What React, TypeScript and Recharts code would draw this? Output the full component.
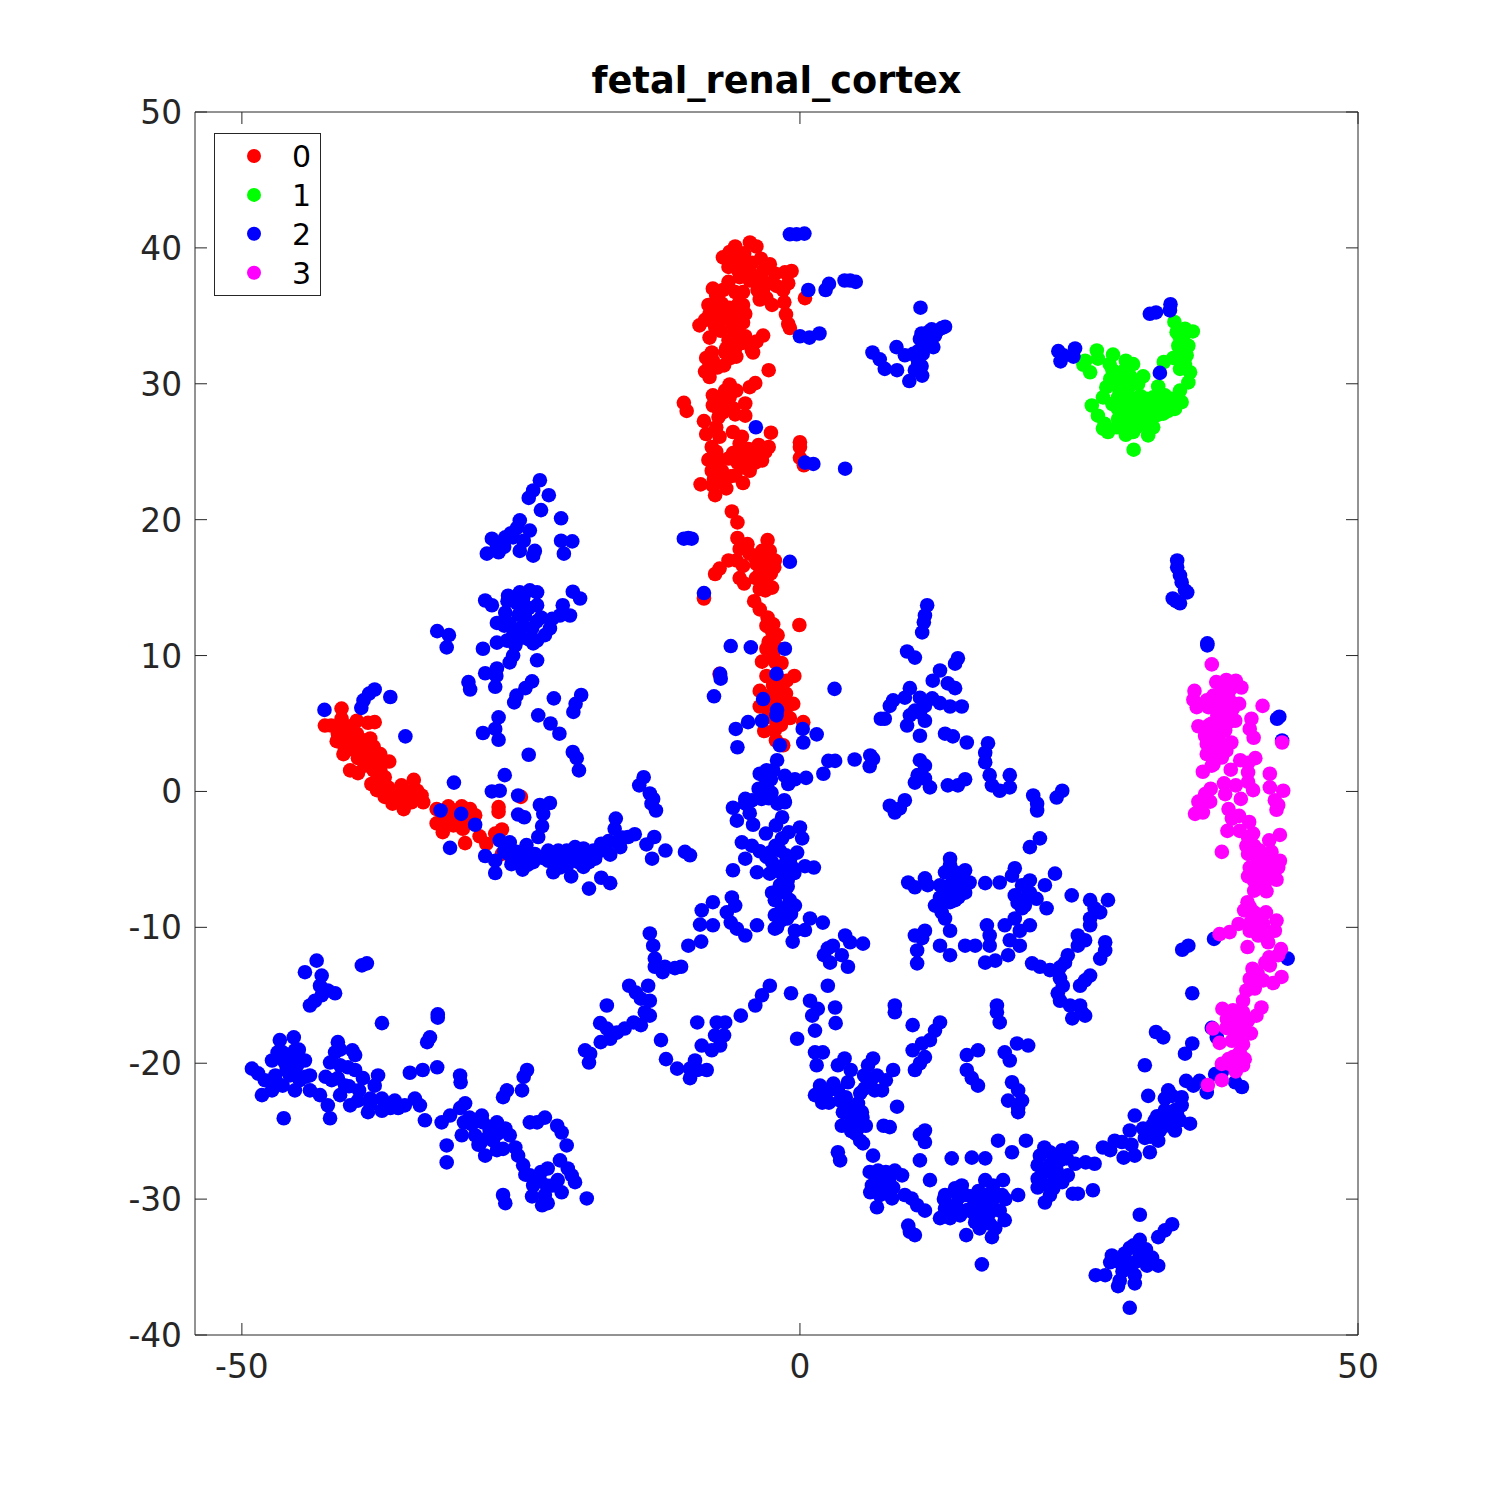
import React from 'react';
import { ScatterChart, Scatter, XAxis, YAxis, Legend } from 'recharts';

type Pt = [number, number];

const xTicks = [-50, 0, 50];
const yTicks = [-40, -30, -20, -10, 0, 10, 20, 30, 40, 50];
const seriesNames = ['0', '1', '2', '3'];
const seriesColors = ['#ff0000', '#00ff00', '#0000ff', '#ff00ff'];

const cluster0: Pt[] = [
  [-4.48,40.4],[-3.9,40.1],[-5.8,40.1],[-6.3,39.7],[-6.9,39.3],[-5.5,39.4],[-6,39],[-4.3,38.9],[-4.9,38.8],[-2.7,38.8],[-3.3,38.3],[-.75,38.3],[-1.35,38.2],[-5.5,38.3],[-5.4,37.85],[-3.9,37.85],[-4.5,37.6],[-6.4,37.5],[-1.05,37.4],[-2.1,37.2],[-7.8,37],[-3.7,37.1],[-3.3,36.9],[-1.5,36.9],[-5.8,36.75],[-5.1,36.75],[-7.5,36.5],[.45,36.3],[-3.6,36.2],[-3,36.3],[-2.5,35.8],[-1.4,36],[-8.2,35.8],[-7.5,35.5],[-6.3,35.6],[-5.1,35.8],[-8.1,35.15],[-6.9,35.3],[-6,35.15],[-4.9,35.15],[-1.25,35.1],[-9,34.3],[-7.9,34.65],[-7,34.8],[-6.1,34.5],[-5.1,34.5],[-7.6,34.2],[-6,34],[-1.05,34.4],[-.9,34.1],[-5.5,33.7],[-4.9,33.5],[-3.3,33.55],[-8.1,33.4],[-6.4,33.2],[-3.9,33.1],[-5.7,33.1],[-4.3,32.45],[-4.2,32.3],[-6.6,32.6],[-5.8,32.6],[-7.9,32.3],[-6.7,32.3],[-5.7,32],[-7.8,31.7],[-6.8,31.35],[-8.1,31.4],[-8.5,30.9],[-2.8,31],[-8.1,30.5],[-6.3,29.95],[-4,30.05],[-4.5,29.75],[-5.7,29.5],[-6.7,29.5],[-7.8,29.15],[-6.3,29],[-6.7,28.65],[-4.9,28.55],[-10.4,28.6],[-10.15,28],[-7.3,28.15],[-6.6,28.15],[-5.8,27.75],[-4.9,27.65],[-7.3,27.55],[-8.6,27.25],[-7.5,26.8],[-8.4,26.3],[-2.6,26.4],[-6,26.45],[-5.2,26.1],[-7.2,26.1],[0,25.7],[0,25.35],[-7.9,25.35],[-2.8,25.35],[-3.3,25.1],[-5.1,25.1],[-3.9,24.85],[-8.2,24.4],[-7.3,24.4],[-6.4,24.5],[-5.4,24.5],[-4.5,24.5],[-3.4,24.35],[0,24.55],[.35,24],[-7.9,23.6],[-7,23.6],[-5.1,23.85],[-5.8,23.25],[-4.5,23.6],[-5.1,22.7],[-8.9,22.6],[-7.8,22.5],[-6.6,22.3],[-7.6,21.8],
  [-6.1,20.6],[-5.6,19.8],[-5.6,18.65],[-2.9,18.5],[-5.4,17.85],[-4.7,18.2],[-3.4,17.7],[-2.7,17.7],[-4,17.2],[-2.25,17],[-3.1,17.1],[-5.7,17],[-6.4,17],[-7.2,16.4],[-7.6,16],[-5.1,16.6],[-3.9,16.75],[-2.6,16.05],[-3.3,16.4],[-5.4,15.7],[-5,15.3],[-3.95,15.7],[-3,15.65],[-3.6,14.9],[-2.5,15],[-8.6,14.2],[-4.1,14],[-3.6,13.4],[-2.9,12.8],[-3,12.2],[-.05,12.25],[-2,11.5],[-2.5,11.1],[-3,10.5],[-2.1,10.6],[-2.4,10],[-3.4,9.55],[-1.65,9.45],[-3,8.5],[-1.2,8.15],[-.5,8.5],[-2.4,7.8],[-3.6,7.4],[-1.25,7.2],[-2.25,6.95],[-.6,6.45],[-3.6,6.25],[-2.85,6.1],[-.9,5.4],[-1.65,5.7],[.3,5.1],[-2.1,4.85],[-3.2,4.45],[-2.25,4.5],[-2.15,3.75],[-1.5,3.4],[-7.2,8.65],
  [-41.07,6.1],[-41.07,5.35],[-42.56,4.85],[-42,4.85],[-39.7,5.2],[-38.7,5.05],[-38.1,5.1],[-41.4,4.25],[-40.6,4.25],[-39.7,4.25],[-41.5,3.7],[-40.3,3.75],[-38.5,3.9],[-39.1,3.4],[-40.8,3.25],[-40.9,2.75],[-39.6,2.45],[-38.4,2.9],[-37.6,2.75],[-36.8,2.2],[-38.4,2.15],[-40.3,1.55],[-39.6,1.35],[-38.2,1.55],[-37.6,1.55],[-37.2,1.05],[-38.4,.55],[-37.9,.1],[-37.2,-.4],[-36.9,.3],[-35.7,.45],[-34.6,.85],[-36.1,-.3],[-35.5,-.05],[-34.3,.05],[-35.4,-.8],[-35.5,-1.3],[-34.8,-.8],[-33.75,-.8],[-34.05,-.35],
  [-32.55,-1.3],[-31.5,-1.1],[-30.3,-1.1],[-29.55,-1.3],[-29.1,-1.75],[-32.55,-2.35],[-32,-1.9],[-32,-3],[-31.05,-2.5],[-30.2,-2.75],[-27,-1.15],[-27,-1.5],[-25,-.4],[-26.7,-2.8],[-27.3,-3.1],[-30,-3.8],[-28.7,-3.3],[-28.1,-3.85],[-26.7,-4.6],
];
const cluster0Dense: Pt[] = [
  [-5,39.6],[-6.4,38.6],[-4.5,38.2],[-3.5,39.2],[-2.2,38.1],[-3.8,36.9],[-2.9,37.4],[-6.9,36.9],[-7,35.9],[-5.5,35.9],[-6.4,34.9],[-8.5,34.7],[-5.5,34.9],[-7.1,33.9],[-5.2,33],[-4.4,32.9],[-6.2,31.9],[-7.4,31.2],[-8.4,31.9],[-7.2,28.8],[-6.4,29.4],[-6.9,27.9],[-7.8,28.4],[-6,28.2],[-5.4,25.6],[-4.6,25.2],[-3.7,25.5],[-6,24.9],[-5,24],[-4,24.2],[-7.5,25],[-7.7,23],[-6.2,23.2],[-7,22.9],[-3.1,25],[-5.6,24.2],
  [-4.5,17.5],[-3.6,16],[-3,16.9],[-2.3,16.5],[-3.1,14.8],[-2.5,11.8],[-2.2,9.5],[-2.8,11],[-2,7.3],[-1.6,8],[-3,7],[-2.8,5.5],[-1.5,6.5],[-1.7,4.9],[-1.3,6],[-2.4,12.3],
  [-41,4.8],[-40.3,4.8],[-39.3,3.8],[-40.2,3.1],[-39.2,2.8],[-38.2,3.3],[-37.9,2.2],[-39,1.9],[-37.8,.9],[-36.8,-.1],[-36,-.8],[-35,0],[-33.9,-.3],[-35,-.3],[-36.5,-.9],[-31.8,-1.5],[-31,-1.7],[-31.3,-2],[-30.5,-2.2],[-29.9,-1.9],[-32,-2.4],
];

const cluster1: Pt[] = [
  [25.55,31.7],[25.4,31.4],[26,30.85],[26.6,32.45],[26.7,31.85],[28.05,32.15],[27.75,31.45],[29.2,31.7],[29.85,31.45],[28.2,30.85],[29,30.95],[29.55,30.6],[27.8,30.35],[28.8,30.25],[30.75,30.55],[30.3,30],[27.45,29.75],[28.6,29.6],[27.15,29],[28.5,29],[26.15,28.4],[26.7,27.65],[27.3,27.05],[27.6,26.45],[27.15,26.7],[28.5,28.15],[28.5,27.4],[29.25,28.3],[30,28.9],[30.15,28.15],[29.25,27.55],[29.85,27.3],[29.2,26.25],[29.85,26.45],[29.9,25.15],[30.15,26.8],[31.2,26.2],[31.65,26.8],[31.05,26.95],[31.05,28.9],[30.75,27.8],[31.65,29],[32.1,29.8],[31.95,28.15],[32.7,29.15],[32.55,27.8],[33.6,28.15],[34.05,29.5],[34.2,28.65],[33.3,28.9],[32.6,31.6],[33.45,31.9],[33.55,34.55],[33.75,33.8],[34.5,34.05],[35.2,33.85],[34.35,33.45],[33.9,32.8],[34.8,32.8],[33.9,32.1],[34.65,32.1],[34.05,31.1],[34.95,30.85],[34.8,30.1],[34.5,31.45],
  [28,31],[28.7,30.6],[29.5,29.8],[30.5,29.1],[29,29.2],[29.5,28.7],[30.7,28.4],[31.3,28.2],[32.2,28.6],[32.9,28.5],[33.8,29],[30.2,27.5],[31.4,27.7],[29,27],[32,27.7],[34.3,33],[34.5,32.5],[34.2,31.8],[34,33.5],[33,28],[28,28.5],[28.4,26.8],
];

const cluster2: Pt[] = [
  [-42.6,6],[-38.1,7.5],[-38.6,7.2],[-39.1,6.7],[-39.3,6.15],[-36.7,6.95],[-35.35,4.05],[-29.7,8.05],[-29.55,7.5],[-28.2,8.7],[-27.2,8.5],[-27.3,7.7],[-24,8.1],[-24.6,7.6],[-25.4,7.05],[-25.6,6.55],[-22.05,6.85],[-19.6,7.1],[-20.1,6.45],[-20.3,5.85],[-23.45,5.6],[-22.35,5],[-21.55,4.25],[-27,5.45],[-27.3,4.6],[-28.4,4.3],[-27,3.8],[-24.3,2.7],[-20.35,2.9],[-20,2.45],[-19.8,1.55],[-31,.65],[-26.45,1.2],[-27.6,0],[-26.9,.05],[-25.25,-.3],[-32.2,-1.4],[-30.35,-1.65],[-29.1,-2.45],[-31.35,-4.15],[-22.4,-.85],[-23.3,-1],[-23,-1.65],[-25.25,-1.7],[-24.7,-1.9],[-23.1,-2.55],[-23.45,-3.35],[-14,1.05],[-14.4,.45],[-13.45,-.15],[-13.15,-.55],[-13.3,-.9],[-12.9,-1.4],[-16.5,-2],[-16.6,-2.75],[-14.8,-3.15],[-15.4,-3.35],[-13.05,-3.35],[-13.75,-3.9],[-12.05,-4.35],[-13.25,-4.95],[-10.3,-4.45],[-9.85,-4.7],
  [-26.9,-3.6],[-26,-3.75],[-28.2,-4.75],[-27.3,-5.1],[-27.3,-6],[-26.15,-4.6],[-25.85,-5.35],[-25.4,-4.45],[-24.85,-5.75],[-24.95,-4.95],[-23.9,-5.2],[-23.75,-4.6],[-24.5,-3.95],[-22.55,-4.35],[-22.55,-5.1],[-22.1,-5.95],[-21.65,-4.35],[-21.35,-5.2],[-20.9,-4.35],[-20.45,-5.1],[-20.5,-6.25],[-20.15,-4.1],[-19.85,-5.2],[-19.4,-5.55],[-19.4,-4.2],[-18.35,-4.95],[-18.5,-4.35],[-17.8,-3.85],[-17,-4.65],[-17.15,-3.65],[-16.1,-4.1],[-17.8,-6.35],[-17,-6.75],[-18.9,-7.15],
  [-.9,41],[-.3,41],[.4,41.05],[.75,36.9],[2.3,36.9],[2.6,37.35],[4,37.6],[4.5,37.6],[5,37.5],[0,33.5],[.85,33.4],[1.75,33.7],[-3.95,26.8],[.45,24.2],[1.2,24.1],[4.05,23.75],
  [10.8,35.6],[6.5,32.3],[7.15,31.8],[7.6,31.1],[8.7,31],[8.65,32.7],[9.4,32.1],[10.15,32.2],[10.9,33.7],[10.75,33.3],[11.8,34],[12.7,34.1],[13,34.2],[12.1,33.55],[11.5,32.95],[11.95,32.7],[11,32.2],[10.6,31.5],[10.3,31],[9.8,30.2],[10.95,30.6],
  [23.15,32.4],[23.35,31.65],[23.6,32.1],[24.65,32.6],[24.5,32],[31.35,35.15],[31.9,35.25],[33.2,35.85],[33.15,35.4],[32.25,30.8],
  [36.5,10.75],[36.5,10.9],[42.95,5.5],[42.75,5.35],[43.2,3.75],[37.1,-10.85],[34.8,-11.35],[34.25,-11.65],[43.7,-12.3],[35.15,-14.85],[36.9,-17.4],[37.35,-18.1],[35.15,-18.55],[34.5,-19.3],[31.9,-17.7],[32.55,-18.1],[37.2,-20.8],[37.8,-20.65],[39,-21.4],[39.6,-21.75],[34.6,-21.3],[35.25,-21.65],[35.8,-21.3],[36.45,-22.15],
  [-23.3,22.9],[-23.9,22.15],[-24.3,21.6],[-22.5,21.8],[-23.2,20.7],[-21.4,20.1],[-25.1,19.95],[-25.35,19.4],[-24.2,19.2],[-25.7,18.7],[-24.75,18.45],[-26.4,18.7],[-27.6,18.6],[-27.15,18.1],[-25.1,17.7],[-23.9,17.35],[-21.4,18.45],[-20.4,18.4],[-21.15,17.5],[-28.05,17.5],[-27,17.6],[-23.75,17.7],
  [-28.2,14.05],[-27.6,13.7],[-26.15,14.4],[-25.1,14.65],[-24.2,14.8],[-23.55,14.65],[-25.35,13.85],[-26.4,13.15],[-23.55,13.7],[-23.2,12.8],[-27.15,12.4],[-26,12.35],[-24.65,12.95],[-25.7,11.5],[-25.1,11.85],[-24,12],[-22.4,12],[-22.85,11.5],[-23.55,11.1],[-25.5,10.75],[-26.25,11.1],[-21.5,12.95],[-20.6,12.95],[-19.7,14.2],[-20.35,14.7],[-21.25,13.7],[-22.2,12.7],[-32.5,11.8],[-31.45,11.5],[-31.65,10.6],[-28.4,10.5],[-27.15,10.95],[-23.55,9.65],[-25.7,10],[-26,9.5],[-27.15,9.05],
  [-10.4,18.6],[-9.7,18.6],[-10,18.65],[-.9,16.9],[-8.6,14.6],[-6.2,10.7],[-4.4,10.6],[-1.35,10.5],[-2.1,8.65],[-7.15,8.65],[-7.1,8.3],[3.1,7.55],[-7.7,7],[-3.3,6.8],[-2.05,6],[-2.1,5.6],[-3.4,5.2],[-4.65,5.1],[-5.75,4.6],[-5.6,3.25],[.25,4.6],[.3,3.6],[1.5,4.2],[-1.8,3.4],[7.25,5.35],[-2.05,2.3],[-3,1.55],[-2.4,1.55],[-3.15,1.05],[-1.35,1.15],[-.45,.9],[-1.05,.55],[.55,1],[2.55,2.25],[3.15,2.25],[2.1,1.3],[4.9,2.35],[6.3,2.65],[6.55,2.4],[6.25,1.85],[-3,.3],[-2.55,-.1],[-4.9,-.55],[-3.45,-.55],[-1.35,-.8],
  [-6,-1.2],[-4.9,-.9],[-4.5,-1.6],[-5.65,-2.15],[-4.3,-.65],[-2,-.9],[-1.4,-.65],[-1.6,-1.9],[-2.15,-2.5],[-3.05,-3.1],[-4.2,-2.45],[0,-2.65],[.2,-3.45],[-1.6,-3.45],[-5.2,-3.75],[-4.3,-4],[-1.8,-4.35],[-2.7,-4.5],[-1.25,-4.7],[-.25,-4.5],[-4.9,-4.95],[-2.5,-5.2],[-1.5,-5.45],[.45,-5.5],[1.25,-5.6],[-.6,-5.65],[-3.85,-5.95],[-2.7,-6.05],[-1.6,-6.05],[-6,-5.8],[-1.8,-6.9],[-1.1,-6.55],[-2.5,-7.45],[-1.35,-7.45],[-2.25,-8],[-.9,-8],[-6.1,-7.8],[-1.6,-8.6],[-.45,-8.4],[-2.25,-9.1],[-1.15,-9.35],[.9,-9.35],[-2.05,-10],[-.45,-10.25],[2.05,-9.65],[-3.85,-9.85],[-5.8,-8.4],[-6.55,-8.9],[-7.8,-8.15],[-8.8,-8.75],[-8.95,-9.8],[-7.8,-9.85],[-6.2,-9.65],[-5.65,-10.1],[-4.9,-10.6],[-2.25,-10.1],[-.65,-11.05],[.45,-10.2],[-10,-11.35],[-8.85,-11.05],[-13.45,-10.45],[-13.15,-11.35],[-13,-12.3],[-13,-12.9],[-12.1,-12.9],[-12.3,-13.3],[-11.2,-13],[-10.65,-12.9],
  [-15.3,-14.3],[-14.7,-14.8],[-13.6,-14.3],[-14.25,-15.25],[-13.45,-15.4],[-17.3,-15.75],[-13.9,-16.25],[-13.45,-16.5],[-14.9,-17],[-14.25,-17.2],[-17.9,-17.05],[-17.3,-17.45],[-15.7,-17.45],[-16.4,-17.75],[-17,-18.2],[-17.85,-18.45],[-19.25,-19.05],[-18.8,-19.3],[-18.9,-19.95],[-12.45,-18.3],[-12,-19.7],[-11,-20.4],[-9.2,-17],[-7.45,-17],[-6.7,-17],[-7.6,-17.95],[-6.8,-17.95],[-8.8,-18.7],[-9.4,-19.8],[-7.9,-19.05],[-7.15,-18.7],[-9.85,-20.4],[-9.2,-20.5],[-8.35,-20.5],[-9.85,-21.1],[-5.3,-16.5],[-4,-15.75],[-3.4,-15],[-2.7,-14.3],[-.8,-14.85],[.9,-15.4],[1.6,-16],[1.1,-16.5],[3.15,-15.9],[2.5,-14.3],[-.25,-18.2],[1.35,-17.6],[3.2,-17.05],
  [2.5,-11.55],[2.95,-11.35],[2.15,-12.05],[2.7,-12.6],[4.05,-10.6],[4.5,-11.1],[5.65,-11.2],[3.75,-12.05],[4.3,-12.9],
  [1.35,-19.2],[2.05,-19.2],[4,-19.65],[6.55,-19.65],[6.1,-20.15],[4.55,-20.5],[3.4,-20.15],[5.75,-20.9],[6.9,-20.9],[8.35,-20.5],[7.7,-21.25],[1.5,-20.15],[1.8,-21.65],[2.4,-22.15],[1.35,-22.35],[2,-22.9],[3.4,-22],[4.3,-21.4],[5.8,-21.85],[6.7,-22],[7.35,-22],[3.6,-22.75],[4.2,-23.1],[5.2,-22.95],[8.7,-23.2],[3.85,-23.6],[4.65,-24.05],[5.55,-23.6],[3.75,-24.6],[4.5,-24.7],[5.9,-24.6],[5.2,-24.8],[5.4,-25.7],[5.65,-25.9],[7.5,-24.6],[8.05,-24.7],[3.4,-26.55],[3.6,-27.15],[6.55,-26.8],[7,-27.9],[7.15,-28.6],[6.45,-29],[6.25,-28],[7.7,-28],[8.5,-27.9],[9.15,-28.25],[7.6,-29],[8.35,-29.15],[7.15,-29.7],[6.9,-30.6],[8.25,-29.95],[9.4,-29.7],[10,-29.95],[10.5,-30.45],[11.2,-30.85],[9.7,-31.95],[9.85,-32.4],[10.3,-32.65],[12.55,-31.4],[10.75,-25.25],[11.2,-24.95],[11.2,-25.8],[10.75,-27.15],[11.65,-28.6],[13.6,-27],[15.4,-26.95],[16.6,-27],[17.75,-25.7],[19,-26.55],
  [13,-29.7],[13.9,-29.2],[14.5,-29],[13,-30.7],[13.9,-30.45],[14.8,-29.7],[15.7,-30.45],[16.6,-29.7],[17.3,-29],[18.2,-28.6],[18.1,-29.7],[16.6,-28.6],[14.35,-31.2],[13.45,-31.4],[17,-31],[17.9,-30.85],[16.4,-31.2],[18.35,-31.55],[17.5,-32.15],[15.7,-31.7],[16.1,-32.15],[14.9,-32.65],[17.2,-32.8],[16.3,-34.8],[19.55,-29.7],
  [20.25,-25.7],[21.5,-26.8],[22.4,-26.55],[23.5,-26.4],[24.35,-26.2],[21.3,-27.5],[22.4,-27.5],[23.3,-27.15],[24.65,-27.4],[21.3,-28.5],[22.85,-28.5],[24,-28.25],[21.3,-29.15],[23.5,-28.75],[21.95,-30.25],[22.4,-29.7],[24.45,-29.6],[24.9,-29.6],[26.25,-29.35],[25.6,-27.3],[26.4,-27.4],[27.15,-26.2],[27.8,-26.4],[28.85,-25.8],[28.2,-25.7],[29,-26.95],[30,-26.8],[31.35,-26.55],[29.55,-24.95],[30,-23.85],[30.75,-24.8],[31.55,-24.6],[32.25,-24.95],[32.1,-25.7],[31.2,-22.4],[32.7,-22.6],[33.35,-22.4],[30.9,-20.15],[33.6,-23.45],[32.7,-23.45],[34.05,-24.2],[34.95,-24.45],[33.6,-24.95],[31.8,-24.2],[34.2,-23.1],[32.7,-24.6],
  [30.45,-31.15],[33.35,-31.85],[32.7,-32.3],[32.1,-32.8],[30.45,-33],[29.55,-33.6],[29.1,-34],[27.95,-34.15],[30.45,-34],[31.55,-34.3],[28.65,-34.65],[27.8,-34.65],[30,-34.65],[32.1,-34.9],[31.1,-34.9],[30,-35.6],[28.65,-36],[26.5,-35.6],[27.35,-35.6],[28.5,-36.4],[29.55,-38],[30,-36.2],
  [11.4,13.7],[11.2,12.95],[11.1,12.45],[10.95,11.7],[9.6,10.3],[10.3,9.85],[14.15,9.8],[13.9,9.4],[12.55,8.9],[11.9,8.15],[9.85,7.6],[13.25,7.95],[13.9,7.6],[8.35,6.7],[8.05,6.3],[9.4,6.9],[10.75,6.9],[11.85,6.85],[12.55,6.5],[13.45,6.25],[14.5,6.25],[11.2,6.3],[10.3,5.95],[10.75,5.8],[11.2,5.2],[9.85,5.6],[7.6,5.35],[9.6,4.85],[10.75,4.1],[13,4.25],[13.7,4.05],[14.95,3.6],[16.85,3.55],[16.6,2.85],[16.6,2.15],[10.75,2.3],[11.2,1.9],[10.55,1.2],[11.2,.95],[14.8,.9],[17,1.2],[18.8,1.2],[10.3,.65],[11.65,.3],[13.25,.45],[14.15,.45],[17.2,.45],[17.9,.05],[18.8,.3],[9.4,-.65],[8.05,-1.05],[8.5,-1.55],[8.95,-1.25],[20.9,-.3],[21.25,-.9],[21.25,-1.4],[23.5,.05],[23,-.45],[21.5,-3.45],[20.6,-4.1],[22.85,-6.05],
  [13.45,-4.95],[13.45,-5.45],[13,-5.95],[13.9,-5.95],[14.35,-6.55],[14.8,-5.8],[11.2,-6.4],[9.7,-6.7],[10.3,-7.05],[11.45,-6.9],[15.2,-6.7],[16.6,-6.75],[17.9,-6.7],[19.25,-5.65],[19,-6.2],[19.9,-6.9],[20.6,-6.55],[21.95,-6.9],[12.55,-6.9],[13.9,-7.15],[14.8,-7.45],[12.55,-7.8],[13.45,-8.15],[12.1,-8.4],[13.9,-8],[20.6,-7.45],[20.15,-8.4],[19.9,-8.6],[19.25,-7.65],[24.35,-7.65],[26,-8],[27.6,-8],[26.4,-8.6],[26.9,-8.9],[26,-9.35],[26,-9.85],[22.1,-8.6],[12.7,-8.9],[10.3,-10.6],[11.2,-10.25],[10.95,-10.8],[13,-9.35],[13.45,-10.25],[16.75,-9.85],[17,-10.6],[19.25,-9.35],[18.35,-9.85],[19.7,-10.25],[20.6,-9.85],[18.8,-10.95],[19.7,-11.35],[14.8,-11.35],[15.7,-11.35],[17,-11.35],[12.55,-11.35],[13.45,-12.05],[10.5,-11.7],[10.5,-12.65],[16.6,-12.6],[17.5,-12.45],[18.65,-12.05],[24.9,-10.6],[25.55,-10.95],[27.35,-11.1],[27.35,-11.7],[26.9,-12.3],[24.9,-11.35],[24,-12.05],[23.75,-12.6],[20.8,-12.65],[21.5,-12.9],[22.4,-13.15],[23.3,-12.95],[23.3,-13.75],[23.55,-14.3],[25.55,-13.9],[26,-13.55],[25.1,-14.3],[23.1,-14.85],[23.3,-15.4],[24.2,-15.75],[25.1,-15.75],[24.4,-16.7],[25.25,-16.25],[25.55,-16.5],
  [8.5,-15.75],[8.5,-16.25],[10.1,-17.2],[12.1,-17.6],[12.55,-17],[11.65,-18.3],[10.95,-18.55],[10.1,-19.05],[11.2,-19.55],[10.75,-20],[10.3,-20.5],[14.95,-19.4],[15.95,-19.05],[17.65,-15.75],[17.65,-16.25],[17.9,-17],[19.45,-18.55],[20.45,-18.7],[18.35,-19.2],[18.8,-19.8],[14.95,-20.5],[15.4,-21.1],[15.95,-21.65],[19,-21.4],[19.55,-22],[18.65,-22.75],[19.9,-22.75],[19.55,-23.3],[19.55,-23.6],
  [-43.3,-12.45],[-44.35,-13.3],[-42.85,-13.55],[-43,-14.3],[-41.65,-14.85],[-42.3,-14.65],[-42.85,-15],[-43.45,-15.4],[-43.9,-15.75],[-39.25,-12.8],[-38.8,-12.65],[-37.45,-17.05],[-32.45,-16.65],[-32.45,-16.4],[-33.15,-18.1],[-33.4,-18.45],
  [-49.1,-20.4],[-48.55,-20.75],[-47.95,-21.25],[-48.2,-22.35],[-46.6,-18.3],[-46.35,-19.2],[-45.35,-18.1],[-47.3,-19.8],[-46.15,-19.95],[-45.25,-19.05],[-47,-20.9],[-45.7,-20.9],[-46.35,-21.65],[-45.05,-20.15],[-44.8,-21.25],[-44.35,-19.8],[-43.9,-20.9],[-47.3,-22],[-45.25,-22],[-43.9,-22],[-46.25,-24.05],[-43,-22.35],[-42.3,-23.1],[-42.1,-24.05],[-41.4,-18.45],[-41.65,-19.2],[-42.1,-19.95],[-41.2,-20.15],[-40.1,-19.05],[-39.85,-19.4],[-41.4,-21.1],[-41.95,-21.25],[-40.75,-21.65],[-39.85,-20.5],[-39.15,-21.1],[-37.8,-20.9],[-38.1,-21.65],[-41.2,-22.35],[-40.3,-23.1],[-39.6,-22.75],[-38.7,-23.6],[-38.5,-22.6],[-37.45,-22.6],[-37.2,-23.1],[-36.3,-22.75],[-35.4,-23.1],[-37.45,-23.5],[-34.95,-20.7],[-33.8,-20.5],[-32.5,-20.3],[-34.5,-22.6],[-34.05,-23.1],[-33.6,-24.2],
  [-30.45,-20.9],[-30.4,-21.4],[-30,-22.95],[-30.45,-23.3],[-31.35,-23.85],[-32.1,-24.35],[-31.65,-26.05],[-31.65,-27.3],[-30.1,-24.35],[-30.3,-25.3],[-29.1,-25.3],[-28.5,-23.85],[-28.4,-24.35],[-27.8,-24.95],[-27.15,-24.35],[-28.65,-25.9],[-27.5,-25.7],[-28.2,-26.8],[-27.15,-26.4],[-26.4,-24.8],[-26,-25.3],[-25.5,-26.2],[-25.25,-26.8],[-24.8,-27.5],[-24.2,-28.25],[-23.75,-28.6],[-26.25,-22],[-26.6,-22.5],[-24.45,-20.5],[-24.75,-21],[-24.9,-22],[-24.2,-24.35],[-23.55,-24.35],[-22.85,-24],[-21.75,-24.6],[-21.35,-25.1],[-20.9,-26.05],[-21.5,-27.15],[-20.8,-27.75],[-20.45,-28.25],[-22.6,-27.75],[-23.3,-28.6],[-22.2,-29],[-21.7,-28.6],[-23.9,-29],[-22.85,-29.7],[-21.35,-29.5],[-20.15,-28.75],[-19.1,-29.95],[-26.6,-29.7],[-26.4,-30.3],[-23.1,-30.45],[-22.6,-30.3],
  [33.8,17],[33.8,16.5],[34.05,15.9],[34.2,15.4],[34.5,14.8],[34.7,14.65],[33.4,14.2],[34.05,13.85],[33.7,14],
];
const cluster2Dense: Pt[] = [
  [-22,-4.7],[-21,-4.7],[-20,-4.6],[-19,-4.8],[-21.5,-5.6],[-20.9,-5.5],[-23,-4.9],[-18.9,-5.2],[-18,-4.4],[-17.4,-4.2],[-16.4,-3.7],[-15.9,-3.4],[-25.5,-5],[-24.3,-4.5],[-26.5,-4.4],[-24.4,-5.4],
  [-26.5,12.2],[-25.2,13],[-24.3,13.5],[-25,11.3],[-24.3,11.2],[-23.9,10.9],[-24.8,12.2],[-23.6,12.5],[-26.5,18],[-25.9,19],[-26.2,14],[-24.8,14.2],
  [-2.2,-4],[-2,-5.6],[-.9,-5.1],[-.5,-6],[-1.1,-7],[-2,-7.5],[-1.7,-9.5],[-.8,-9],[-3,-4.8],[-3.6,-4.4],[-2.8,-.5],[-2.6,.9],[-3.6,1.3],[-3.7,.2],[-1,-3],
  [-46.8,-19.2],[-46,-20.5],[-45.5,-19.5],[-44.9,-19],[-45,-21],[-46.8,-21.5],[-44.3,-21],[-42.5,-21],[-41.2,-19],[-40.5,-20.3],[-40.4,-21.7],[-39.5,-22],[-38.5,-23],[-36.7,-23.3],[-36,-23.3],[-29.4,-24.5],[-29,-24.2],[-28,-25.5],[-27.1,-25.2],[-29.6,-24],[-28.8,-26],[-26.6,-26.3],[-23.2,-28],[-22.7,-29],[-24.6,-28.2],[-24,-29.8],
  [14.2,-29.9],[15,-30.8],[16,-30.4],[17.2,-30.2],[16.8,-30.5],[17.5,-29.6],[16,-29.4],[15.3,-29.8],[16.7,-31.7],[14,-30.5],[15.5,-31],[17,-31.8],[12.9,-30],[18.4,-30],[8,-28.5],[7.5,-29.5],[6.8,-28.8],[6.3,-29.5],[5.6,-24],[4.9,-23.4],[4.1,-22.5],[3,-21.5],[5.4,-22.2],[2.6,-22.9],[5,-25.2],[4.6,-25],[5.9,-21],[6.4,-21.2],[22,-28],[22.9,-27.3],[23,-27.9],[21.8,-28.9],[23.9,-27],[21.9,-26.2],[22.7,-29.2],
  [32,-23.9],[33,-23.9],[33.8,-23.8],[31.4,-25.4],[33,-22],[34.2,-22.5],[30.9,-25.5],[29.7,-26],[33.4,-24.5],
  [29.2,-34.9],[28.9,-35.3],[30.7,-34.4],[31,-33.7],[29.9,-33.4],
  [13.7,-6.6],[13.2,-7],[14.2,-7.8],[12.9,-7.3],[14.6,-6.3],[12.6,-8.3],[13.6,-7.6],[20.1,-7.9],[19.5,-8.2],[21.2,-7.9],
  [11.3,33.4],[11.2,32.7],[12.3,33.9],[10.6,32.4],[10.5,31.9],[11.5,33.8],[10.9,31.3],
];

const cluster3: Pt[] = [
  [36.9,9.35],[37.3,8.05],[38.2,8.2],[39.05,8.15],[39.55,7.65],[35.35,7.4],[35.25,6.75],[35.55,6.2],[36.45,6.7],[37.05,7.05],[37.8,7.2],[38.5,7.45],[39.35,6.45],[37.05,6.2],[38.1,6.45],[38.8,6.1],[41.45,6.3],[38.1,5.6],[39,5.2],[35.7,4.8],[36.6,4.85],[37.5,5],[40.45,5.35],[40.3,4.6],[40.65,3.95],[38.1,4.5],[36.3,4.1],[37.5,3.85],[36.45,3.5],[38.65,3.6],[43.2,3.6],[38.2,3],[36.45,2.75],[37.8,2.5],[39.45,2.3],[40.8,2.45],[37.05,2],[40.15,2.1],[38.6,1.6],[36.1,1.45],[40.15,1.4],[42.1,1.3],[38,.6],[39.05,.45],[40.15,.7],[42.1,.3],[43.3,.05],[40.6,.1],[38.1,-.2],[39.5,-.55],[36.8,.2],[36.3,-.2],[36.75,-.75],[35.7,-.75],[42.55,-.65],[42.85,-1],[42.7,-1.35],[35.4,-1.65],[36.1,-1.55],
  [38.4,-1.3],[38.7,-2],[39.35,-1.8],[38.3,-2.9],[39.4,-2.9],[40.25,-2.25],[43,-3.2],[42.05,-3.6],[40.15,-3.35],[40.6,-3.1],[40,-4],[40.15,-4.6],[37.8,-4.45],[41.2,-4.35],[42.25,-4.45],[43,-5.1],[42.85,-5.6],[40.3,-5.6],[41.35,-5.35],[42.1,-5.2],[40.15,-6.25],[41.2,-6.05],[42.7,-6.5],[41.8,-6.55],[40.7,-7.3],[41.8,-7.35],[40.1,-8.15],[39.8,-8.75],[40.3,-8.5],[41,-9.4],[41.75,-8.9],[42.7,-9.5],[42.55,-10.25],[41.5,-9.75],[39.3,-9.75],[38.5,-10.35],[37.6,-10.5],[40.3,-10.25],[41.05,-10.6],[41.95,-11.1],[40.1,-11.45],[43.1,-11.6],[42.85,-12.05],[42.05,-12.2],[42.1,-12.8],[40.55,-13.05],[43.15,-13.65],[42.4,-14.1],[41.5,-13.9],[40.3,-13.8],[40,-14.65],[40.75,-14.5],[39.7,-15.4],[37.85,-16],[41.35,-15.9],[38.8,-16.1],[39.7,-16.25],[40.9,-16.5],[38.25,-16.75],[39.1,-16.85],[40.15,-16.85],[37,-17.45],[38.85,-17.6],[40.4,-17.8],[37.6,-18.5],[38.7,-18.35],[39.7,-18.6],[39.4,-19.2],[38.8,-19.55],[39.85,-19.7],[37.8,-20.05],[38.5,-20.05],[39.7,-20.15],[39.05,-20.6],[37.8,-21.25],[36.55,-21.6],
  [38,7.8],[38.7,7.7],[36.6,6.2],[37.6,6.6],[38.5,6.7],[37.4,5.6],[38.4,5.1],[36.9,5],[37,4.3],[37.8,4.4],[36.9,3.6],[37.4,3],[38,3.4],[37,2.6],[36.9,1.9],[41.6,-4.9],[41,-5],[40.9,-5.8],[41.7,-5.8],[42.2,-5.9],[40.7,-6.6],[41.4,-6.9],[41.9,-6],[40.9,-10],[41.6,-10.6],[41.7,-12.6],[40.8,-14],[41,-13.4],[39,-16.8],[39.6,-17.3],[38.2,-17.4],[39.3,-17.9],[39,-20],[39.3,-19.7],[38.4,-19.7],[40.7,-8.9],[40.4,-9.6],[40.7,-4],
];

const seriesPoints = [[...cluster0, ...cluster0Dense], cluster1, [...cluster2, ...cluster2Dense], cluster3];
const toRows = (pts: Pt[]) => pts.map(([x, y]) => ({ x, y }));

const INK = '#262626';

const XLabelTick = ({ x, y, payload }: any) => (
  <g>
    <line x1={x} y1={y} x2={x} y2={y - 12} stroke={INK} strokeWidth={1} />
    <text x={x} y={y + 43} textAnchor="middle" fontSize={32.8} fill={INK} fontFamily="DejaVu Sans">{payload.value}</text>
  </g>
);
const YLabelTick = ({ x, y, payload }: any) => (
  <g>
    <line x1={x} y1={y} x2={x + 12} y2={y} stroke={INK} strokeWidth={1} />
    <text x={x - 13} y={y + 12} textAnchor="end" fontSize={32.8} fill={INK} fontFamily="DejaVu Sans">{payload.value}</text>
  </g>
);
const TopTick = ({ x, y }: any) => <line x1={x} y1={y} x2={x} y2={y + 12} stroke={INK} strokeWidth={1} />;
const RightTick = ({ x, y }: any) => <line x1={x} y1={y} x2={x - 12} y2={y} stroke={INK} strokeWidth={1} />;

const Dot = ({ cx, cy, fill }: any) => <circle cx={cx} cy={cy} r={7.3} fill={fill} />;

const LegendBox = ({ payload }: any) => (
  <svg width={108} height={163} style={{ display: 'block' }}>
    <rect x={0.5} y={0.5} width={106} height={162} fill="#fff" stroke={INK} strokeWidth={1} />
    {(payload || []).map((item: any, i: number) => (
      <g key={item.value}>
        <circle cx={40} cy={23 + i * 38.9} r={7} fill={item.color} />
        <text x={78} y={34 + i * 38.9} fontSize={30} fill="#000" fontFamily="DejaVu Sans">{item.value}</text>
      </g>
    ))}
  </svg>
);

export default function App() {
  return (
    <div style={{ position: 'absolute', left: 0, top: 0, width: 1500, height: 1500, background: '#fff' }}>
      <ScatterChart width={1500} height={1500} margin={{ top: 111, right: 141, bottom: 164, left: 194 }}>
        <text x={776.5} y={93} textAnchor="middle" fontSize={36.7} fontWeight="bold" fill="#000" fontFamily="DejaVu Sans">fetal_renal_cortex</text>
        <XAxis xAxisId="b" type="number" dataKey="x" domain={[-54.2, 50]} ticks={xTicks} interval={0} height={1} tickLine={false} tickSize={0} tickMargin={0} axisLine={{ stroke: INK, strokeWidth: 1 }} tick={<XLabelTick />} allowDataOverflow />
        <XAxis xAxisId="t" orientation="top" type="number" dataKey="x" domain={[-54.2, 50]} ticks={xTicks} interval={0} height={1} tickLine={false} tickSize={0} tickMargin={0} axisLine={{ stroke: INK, strokeWidth: 1 }} tick={<TopTick />} allowDataOverflow />
        <YAxis yAxisId="l" type="number" dataKey="y" domain={[-40, 50]} ticks={yTicks} interval={0} width={1} tickLine={false} tickSize={0} tickMargin={0} axisLine={{ stroke: INK, strokeWidth: 1 }} tick={<YLabelTick />} allowDataOverflow />
        <YAxis yAxisId="r" orientation="right" type="number" dataKey="y" domain={[-40, 50]} ticks={yTicks} interval={0} width={1} tickLine={false} tickSize={0} tickMargin={0} axisLine={{ stroke: INK, strokeWidth: 1 }} tick={<RightTick />} allowDataOverflow />
        {seriesPoints.map((pts, i) => (
          <Scatter key={seriesNames[i]} name={seriesNames[i]} xAxisId="b" yAxisId="l" data={toRows(pts)} fill={seriesColors[i]} shape={<Dot />} isAnimationActive={false} />
        ))}
        <Legend layout="horizontal" align="center" verticalAlign="middle" content={<LegendBox />} wrapperStyle={{ position: 'absolute', left: 214, top: 133, width: 108, height: 163, margin: 0 }} />
      </ScatterChart>
    </div>
  );
}
